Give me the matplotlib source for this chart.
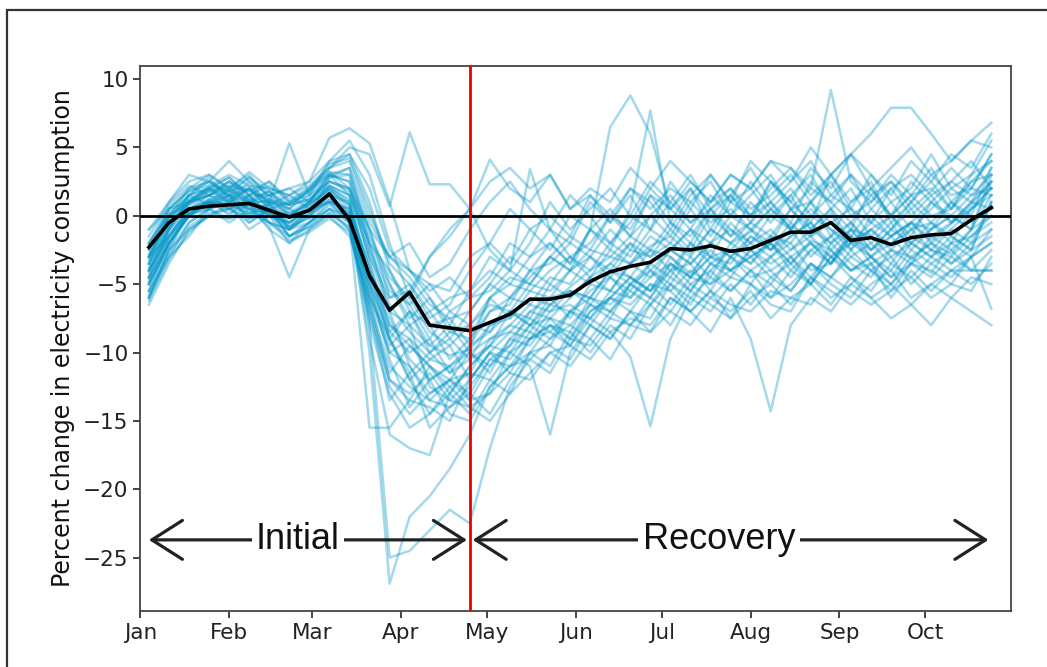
import numpy as np
import matplotlib
matplotlib.use("Agg")
import matplotlib.pyplot as plt
import matplotlib.dates as mdates
from matplotlib.patches import Rectangle

# weekly observations, Jan 4 to Oct 24 2020
weeks = np.arange(np.datetime64("2020-01-04"), np.datetime64("2020-10-25"), np.timedelta64(7, "D"))
lockdown_end = np.datetime64("2020-04-25")

# national average
mean_change = [-2.3, -0.5, 0.5, 0.7, 0.8, 0.9, 0.4, -0.1, 0.4, 1.6,
               -0.3, -4.4, -6.9, -5.6, -8.0, -8.2, -8.4, -7.8, -7.2, -6.1,
               -6.1, -5.8, -4.8, -4.1, -3.7, -3.4, -2.4, -2.5, -2.2, -2.6,
               -2.4, -1.8, -1.2, -1.2, -0.5, -1.8, -1.6, -2.1, -1.6, -1.4,
               -1.3, -0.3, 0.6]

# individual regions
region_change = [
    [-4.5, -1.0, 1.2, 1.8, 1.0, 1.5, 0.2, -0.5, 0.8, 2.0,
     0.5, -5.0, -8.5, -7.0, -9.5, -10.2, -9.8, -8.0, -7.5, -6.0,
     -6.5, -5.2, -4.0, -3.0, -3.5, -2.2, -1.5, -2.8, -1.0, -2.0,
     -1.2, 0.5, -0.8, -1.5, 0.2, -2.5, -1.0, -2.2, -0.5, -1.8,
     -0.6, 0.8, 2.5],
    [-6.0, -2.5, 0.5, 1.5, 2.2, 1.0, 1.8, 0.5, -0.2, 2.8,
     3.5, -2.0, -7.0, -11.0, -13.5, -12.0, -13.0, -10.5, -11.0, -9.0,
     -8.5, -9.5, -7.0, -6.0, -4.5, -5.5, -3.0, -4.2, -2.5, -4.0,
     -3.0, -2.0, -3.5, -1.8, -2.5, -4.0, -3.0, -1.5, -3.2, -2.0,
     -2.8, -1.0, 1.5],
    [-3.0, -1.5, 0.2, 1.0, 0.5, 0.8, -0.5, -1.0, 0.0, 1.2,
     0.0, -10.0, -26.9, -22.0, -20.5, -18.5, -16.0, -12.5, -11.0, -10.0,
     -8.0, -9.0, -6.5, -7.5, -5.0, -6.0, -4.0, -5.5, -3.5, -4.5,
     -2.5, -4.0, -3.0, -5.0, -2.0, -3.5, -4.5, -2.5, -3.0, -4.2,
     -2.0, -3.0, -1.0],
    [-5.0, -2.0, 0.0, 1.2, 1.8, 0.2, 1.0, -0.8, 0.5, 1.5,
     1.0, -8.0, -25.0, -24.5, -23.0, -21.5, -22.5, -17.0, -12.5, -10.5,
     -11.5, -9.0, -9.5, -7.5, -8.0, -6.5, -5.0, -6.0, -4.5, -5.5,
     -4.0, -6.0, -5.0, -3.5, -4.5, -3.0, -4.0, -5.5, -3.5, -4.0,
     -5.0, -3.0, -2.0],
    [-5.5, -3.0, -1.5, 0.5, -0.2, 0.8, -1.0, -2.0, -0.5, 0.8,
     -0.5, -9.0, -16.0, -17.0, -17.5, -13.0, -14.5, -12.0, -13.0, -10.0,
     -9.5, -10.5, -8.0, -9.0, -7.0, -8.5, -6.0, -7.0, -5.5, -7.5,
     -6.0, -5.0, -6.5, -4.5, -5.5, -6.5, -5.0, -4.0, -6.0, -5.0,
     -4.0, -4.0, -4.0],
    [-1.0, 0.5, 2.0, 2.5, 1.5, 2.8, 1.5, 2.0, 2.5, 5.7,
     6.4, 5.3, 1.0, -4.0, -6.0, -8.0, -5.5, -4.0, -5.0, -3.0,
     -2.0, -3.5, -1.0, 0.5, -1.5, 0.0, 1.5, -0.5, 1.0, 2.0,
     0.5, 1.5, 3.0, 1.0, 2.5, 0.0, 1.0, 2.5, 0.5, 1.8,
     3.5, 2.0, 4.5],
    [-2.0, 0.0, 1.0, 2.0, 2.8, 1.5, 2.2, 1.0, 1.8, 3.5,
     5.0, 4.5, 0.7, 6.1, 2.3, 2.3, 0.5, 4.1, 2.0, 1.0,
     3.0, 0.5, 2.0, 1.0, 3.5, 2.0, 4.0, 2.5, 1.0, 3.0,
     2.0, 4.0, 3.5, 1.5, 3.0, 4.5, 2.0, 3.5, 5.0, 3.0,
     4.0, 5.5, 6.8],
    [-3.5, -0.5, 1.5, 2.0, 1.2, 2.5, 0.8, 1.5, 0.5, 2.2,
     1.5, -3.0, -6.0, -5.0, -7.5, -6.5, -4.0, -2.0, -3.5, -1.0,
     -2.5, 0.0, -1.0, 6.5, 8.8, 6.0, 0.5, 2.0, -1.0, 1.5,
     0.0, 2.5, 1.0, -0.5, 3.0, 1.0, 2.0, 0.0, 1.5, 3.5,
     1.0, 2.5, 3.0],
    [-4.0, -1.5, 0.5, 1.0, 2.0, 0.8, 1.2, 0.0, 1.0, 1.8,
     0.2, -6.0, -10.0, -9.0, -12.0, -11.0, -9.5, -7.0, -6.0, -4.5,
     -3.0, -4.0, -1.0, -2.5, 0.5, 7.7, -0.5, -2.0, 0.5, -1.5,
     1.0, -0.5, 1.5, 3.0, 0.5, -1.0, 2.0, 0.0, -1.5, 1.0,
     0.0, 1.5, 2.0],
    [-5.0, -2.0, 0.0, 0.8, 1.5, -0.5, 0.5, -1.5, -0.8, 0.5,
     -1.0, -7.5, -12.0, -13.5, -14.0, -15.0, -12.0, -10.0, -11.5, -9.0,
     -8.0, -9.5, -7.5, -8.5, -10.3, -15.4, -9.0, -6.0, -7.0, -5.0,
     -6.5, -4.5, -5.5, -3.5, -5.0, -6.0, -4.0, -5.0, -3.5, -4.5,
     -3.0, -4.0, -2.5],
    [-6.5, -3.5, -1.0, 0.0, 0.8, -1.0, 0.0, -2.0, -1.0, 0.0,
     -1.5, -6.0, -9.0, -12.0, -14.5, -13.0, -11.0, -9.5, -8.0, -8.5,
     -6.5, -7.0, -5.5, -4.5, -6.0, -4.0, -5.5, -7.0, -8.5, -6.0,
     -9.0, -14.3, -8.0, -6.0, -7.0, -5.0, -6.0, -7.5, -6.5, -8.0,
     -6.0, -7.0, -8.0],
    [-4.0, -1.0, 1.0, 1.5, 0.5, 1.2, 0.0, -0.5, 0.5, 1.5,
     0.0, -5.5, -9.5, -8.0, -12.5, -13.5, -14.0, -13.0, -10.0, -11.0,
     -16.0, -10.0, -8.0, -9.0, -7.0, -7.5, -5.0, -6.5, -4.0, -5.5,
     -4.0, -5.0, -3.0, -4.5, -2.5, -4.0, -3.5, -5.0, -3.0, -2.0,
     -3.5, -2.5, -1.5],
    [-2.5, 0.5, 1.8, 2.5, 1.5, 2.0, 1.0, 5.3, 1.5, 2.5,
     2.0, -2.0, -5.0, -7.5, -6.0, -8.5, -9.0, -7.0, -6.5, -4.0,
     -5.0, -3.0, -4.0, -2.0, -3.0, -1.0, -2.0, 0.5, -1.5, 1.0,
     0.0, 2.0, 3.5, 2.0, 9.2, 2.5, 1.0, 3.0, 1.5, 2.0,
     0.5, 2.5, 4.0],
    [-1.5, 1.0, 2.5, 3.0, 2.0, 3.2, 2.0, 1.5, 2.5, 4.0,
     4.5, 1.0, -4.0, -6.5, -9.0, -7.0, -8.0, -6.0, -4.5, -5.0,
     -3.0, -1.5, -2.5, 0.0, -1.0, 1.5, 0.5, 2.5, 1.0, 3.0,
     2.0, 4.0, 2.5, 5.0, 3.0, 4.5, 6.0, 7.9, 7.9, 6.0,
     4.0, 5.5, 5.0],
    [-3.0, 0.0, 1.0, 2.2, 1.8, 1.0, 1.5, 0.0, 1.0, 3.0,
     2.5, -3.5, -8.0, -9.5, -11.0, -12.5, -11.5, -9.0, -8.5, -7.0,
     -6.0, -7.5, -5.0, -5.5, -3.5, -4.5, -2.5, -3.5, -2.0, -1.0,
     -2.5, -1.5, 0.5, -1.0, -2.0, -0.5, -2.5, -1.0, 0.5, -1.5,
     -0.5, 1.0, 0.5],
    [-5.5, -2.5, -0.5, 0.5, 1.0, 0.0, 0.8, -1.0, 0.2, 1.0,
     0.5, -4.5, -7.5, -10.5, -12.0, -11.0, -13.5, -11.0, -9.0, -9.5,
     -7.5, -8.0, -6.5, -7.0, -5.0, -6.0, -3.5, -5.0, -4.0, -2.5,
     -3.5, -2.0, -4.0, -2.5, -1.5, -3.0, -2.0, -3.5, -1.5, -2.5,
     -1.0, -2.0, 1.0],
    [-2.0, 0.8, 2.2, 1.5, 2.5, 1.8, 2.5, 1.2, 2.0, 3.2,
     2.0, -1.5, -4.5, -6.0, -8.5, -9.5, -8.0, -8.5, -6.0, -6.5,
     -4.5, -5.0, -3.0, -4.0, -2.0, -3.0, -1.0, -2.5, 0.0, -1.5,
     -0.5, 1.0, -1.0, 0.5, -1.0, -2.5, 0.0, -1.5, -0.5, 1.0,
     -0.5, 0.5, 2.0],
    [-4.5, -1.5, 0.5, 1.2, 0.0, 1.5, -0.5, -1.5, -0.5, 1.0,
     -0.2, -6.5, -11.0, -12.5, -13.5, -14.0, -12.5, -10.5, -9.5, -8.0,
     -9.0, -7.0, -7.5, -6.0, -4.5, -5.5, -4.0, -3.5, -5.5, -3.0,
     -4.0, -3.0, -2.0, -4.0, -3.5, -1.5, -3.0, -4.0, -2.0, -3.0,
     -2.0, -1.5, 0.0],
    [-3.5, -1.0, 1.5, 0.8, 1.8, 2.2, 1.0, 0.8, 1.2, 2.5,
     1.8, -2.5, -6.5, -8.5, -10.0, -9.0, -10.5, -9.5, -7.0, -8.0,
     -6.0, -5.5, -6.5, -4.5, -5.5, -3.5, -4.5, -2.0, -3.0, -3.5,
     -1.5, -2.5, -1.0, -3.0, -1.5, -0.5, -2.0, -0.5, -2.5, -1.0,
     0.0, -1.0, 3.0],
    [-6.0, -3.0, -0.5, 0.5, -0.5, 0.5, -0.8, -4.5, -1.0, 0.2,
     -1.0, -5.0, -10.5, -14.0, -12.0, -14.5, -15.0, -12.5, -11.0, -10.5,
     -9.0, -8.0, -9.0, -7.0, -8.0, -6.0, -7.0, -5.0, -6.0, -4.5,
     -5.0, -6.0, -4.0, -5.0, -3.0, -4.5, -5.5, -3.5, -4.5, -3.0,
     -4.0, -5.0, -3.5],
    [-2.5, 0.0, 1.5, 2.8, 1.2, 2.0, 0.5, 1.0, 2.0, 3.8,
     4.2, 0.5, -3.5, -5.0, -7.0, -6.0, -5.5, -3.0, -4.0, -2.0,
     1.0, -1.0, 0.5, 2.0, 0.0, 2.5, 1.0, 3.0, 0.5, 1.5,
     3.5, 1.0, 2.5, 4.0, 1.5, 0.5, 3.0, 1.0, 2.0, 4.5,
     2.0, 3.0, 5.5],
    [-5.0, -2.0, 0.0, 1.0, 0.2, 0.8, 0.0, -1.0, 0.0, 1.5,
     -0.5, -7.0, -13.5, -11.5, -15.5, -14.0, -13.0, -14.5, -12.0, -10.0,
     -11.0, -8.5, -10.0, -8.0, -9.0, -6.5, -8.0, -5.5, -6.5, -7.5,
     -5.0, -6.5, -7.0, -4.5, -6.0, -5.0, -3.5, -6.0, -4.0, -5.5,
     -4.0, -3.0, -6.8],
    [-3.0, -0.5, 0.8, 1.8, 2.5, 1.2, 1.8, 0.2, 0.8, 2.0,
     0.8, -4.0, -9.0, -7.0, -8.0, -10.5, -9.0, -6.0, -7.5, -5.5,
     -6.0, -4.0, -5.0, -3.5, -2.0, -4.0, -2.5, -1.0, -3.0, -0.5,
     -2.0, -3.0, -1.5, -0.5, -2.5, -1.0, -3.0, -2.0, -1.0, -0.5,
     -2.0, 0.5, 1.5],
    [-4.0, -1.0, 0.8, 1.5, 1.0, 2.0, 0.5, 0.0, 1.0, 2.2,
     1.0, -4.0, -7.0, -5.5, -3.0, -1.5, 0.5, 2.5, 3.5, 2.0,
     3.0, 0.5, 1.5, -0.5, 2.0, 1.0, -1.0, 1.5, 3.0, 1.0,
     2.0, 0.0, 1.5, -1.0, 0.5, 2.0, -0.5, 1.0, -1.0, 0.5,
     2.0, 1.0, 3.5],
    [-5.5, -2.0, 0.2, 0.5, 1.5, -0.2, 0.5, -1.0, -0.5, 0.5,
     -0.5, -8.0, -13.0, -15.5, -14.5, -12.5, -14.0, -15.0, -13.0, -11.5,
     -10.0, -11.0, -9.0, -10.5, -8.0, -8.5, -7.0, -8.0, -6.0, -7.0,
     -5.5, -7.5, -6.0, -5.0, -6.5, -4.5, -6.0, -5.0, -6.5, -5.0,
     -6.0, -4.5, -5.0],
    [-1.0, 1.0, 3.0, 2.5, 4.0, 2.5, 1.5, 2.0, 1.0, 3.0,
     3.5, -0.5, -3.0, -4.5, -6.5, -7.5, -7.0, -5.0, -6.0, -4.0,
     -3.5, -2.0, -3.0, -1.0, -2.5, 0.0, -1.5, 1.0, -0.5, 0.5,
     -1.0, 0.5, 2.0, 0.0, 1.5, 3.0, 0.5, 2.0, 3.0, 1.5,
     2.5, 4.0, 2.0],
    [-4.0, -1.5, 0.5, 1.0, 0.5, 1.5, 0.0, -0.5, 0.5, 1.0,
     -0.5, -15.5, -15.5, -13.5, -11.0, -12.0, -10.0, -11.5, -9.0, -7.5,
     -8.5, -7.0, -6.0, -7.0, -5.5, -6.5, -4.5, -5.5, -3.5, -4.0,
     -5.0, -3.0, -4.5, -2.5, -3.5, -2.0, -3.0, -4.5, -2.5, -3.5,
     -2.5, -4.0, -4.0],
    [-3.5, 0.5, 1.0, 2.0, 1.5, 1.0, 1.0, 0.5, 1.5, 3.0,
     1.5, -3.0, -7.0, -8.0, -9.5, -8.0, -10.0, -11.0, -9.5, -7.0,
     -7.5, -6.0, -4.5, -5.5, -3.5, -2.5, -4.0, -2.0, -3.5, -2.5,
     -1.0, -2.5, -0.5, -2.0, -3.5, -1.0, -1.5, -3.0, -2.0, -0.5,
     -1.5, -2.5, 1.0],
    [-2.0, 0.2, 1.5, 2.0, 2.8, 1.5, 2.5, 1.0, 1.5, 4.0,
     5.5, 3.0, -2.0, -6.0, -3.0, -1.0, 0.5, -2.5, -4.0, 3.4,
     -1.0, -3.0, -2.0, 0.0, -1.5, 1.5, -0.5, 2.0, 0.0, 1.5,
     -0.5, 2.5, 0.5, 1.0, -1.5, 1.0, 2.5, -0.5, 1.0, 2.5,
     0.5, 3.0, 4.0],
    [-6.0, -2.5, -1.0, 0.0, 0.5, -0.5, 0.5, -1.5, -0.5, 0.5,
     0.0, -6.0, -12.0, -13.0, -11.5, -13.5, -12.0, -10.0, -10.5, -8.5,
     -9.5, -7.0, -8.0, -6.0, -7.0, -5.0, -6.5, -4.5, -5.0, -3.0,
     -4.5, -4.0, -5.5, -3.5, -4.5, -2.5, -4.0, -3.0, -5.0, -3.5,
     -4.5, -3.0, -2.0],
    [-3.0, 0.0, 2.0, 3.0, 2.0, 3.0, 1.2, 0.5, 2.0, 3.5,
     4.5, 2.0, -2.5, -4.0, -5.5, -4.5, -6.0, -4.5, -2.0, -3.0,
     -1.0, -2.0, 1.0, -0.5, 1.5, -1.0, 2.5, 0.5, 3.0, 1.0,
     4.0, 2.5, 1.0, 3.5, 2.0, 4.5, 3.0, 1.5, 4.0, 2.5,
     4.5, 3.5, 6.0],
    [-4.5, -2.0, 0.0, 0.5, 1.0, 0.5, -0.5, -1.0, 0.5, 1.0,
     0.5, -5.0, -9.0, -11.5, -10.0, -11.5, -10.5, -8.0, -7.0, -7.5,
     -5.0, -6.0, -4.5, -3.5, -4.5, -2.5, -3.0, -4.5, -2.0, -3.0,
     -2.0, -1.0, -2.5, -1.0, 0.5, -2.0, -1.0, 0.0, -2.0, -1.0,
     1.0, -0.5, 0.5],
    [-3.8, -0.8, 1.0, 1.5, 2.0, 1.2, 1.0, 0.2, 1.2, 2.5,
     2.0, -1.0, -3.0, -2.0, -4.5, -3.5, -1.0, 1.0, 2.5, 0.5,
     -1.0, 1.5, 0.0, -2.0, -0.5, 2.0, 0.5, -1.0, 1.5, 0.0,
     2.5, 0.5, -1.0, 1.0, 3.0, 0.5, -0.5, 2.0, 0.0, 1.5,
     -0.5, 1.0, 2.5],
    [-5.0, -2.2, 0.0, 1.0, 1.5, 0.5, 0.8, -0.5, 0.5, 1.8,
     0.8, -4.5, -8.0, -9.0, -10.5, -11.0, -10.0, -9.0, -8.0, -6.5,
     -7.0, -5.5, -6.0, -4.0, -5.0, -3.5, -2.5, -3.5, -2.0, -3.0,
     -1.5, -2.5, -1.5, -0.5, -2.0, -1.0, -2.5, -1.5, -0.5, -2.0,
     -1.0, 0.5, 2.0],
    [-2.8, -0.2, 1.2, 2.0, 1.0, 2.0, 0.8, 0.0, 1.0, 2.8,
     3.0, -2.5, -5.5, -6.5, -5.0, -7.0, -6.0, -5.5, -4.0, -5.0,
     -3.0, -4.0, -2.5, -3.0, -1.5, -2.5, -0.5, -1.5, 0.5, -1.0,
     -2.0, 0.0, -1.0, 1.0, -0.5, -1.5, 0.5, -1.0, 1.0, -0.5,
     1.0, 0.0, 3.5],
    [-4.8, -1.8, 0.2, 0.8, 1.2, 0.5, 0.2, -0.8, 0.2, 1.5,
     0.0, -5.5, -10.0, -11.0, -13.0, -12.0, -11.5, -12.0, -10.0, -9.0,
     -8.0, -8.5, -6.0, -6.5, -5.0, -4.0, -5.0, -3.0, -4.5, -2.0,
     -3.0, -2.0, -3.5, -2.0, -3.0, -1.5, -3.5, -2.5, -1.0, -2.5,
     -3.0, -1.5, -0.5],
    [-3.2, -0.5, 1.0, 1.8, 2.2, 1.8, 1.2, 0.8, 1.8, 3.0,
     2.5, -1.0, -6.0, -5.5, -8.0, -7.5, -9.5, -6.0, -5.0, -5.5,
     -4.0, -3.0, -4.5, -2.5, -3.5, -1.5, -2.5, -1.0, -2.0, 0.0,
     -1.0, -2.0, 0.5, -1.5, -0.5, 0.5, -1.5, 0.0, 1.5, 0.0,
     0.5, 2.0, 1.5],
    [-5.8, -2.8, -0.8, 0.2, 0.5, -0.2, 0.2, -1.5, -0.8, 0.2,
     -0.8, -7.0, -11.5, -9.5, -11.0, -13.0, -11.0, -9.5, -10.0, -8.0,
     -7.5, -9.0, -7.0, -6.0, -6.5, -5.0, -5.5, -4.0, -5.0, -4.0,
     -3.0, -4.5, -3.5, -5.0, -3.0, -4.0, -3.0, -4.5, -3.5, -2.5,
     -3.5, -2.0, -1.0],
    [-2.2, 0.5, 1.8, 2.2, 3.0, 2.2, 2.0, 1.5, 2.2, 3.5,
     4.0, 0.0, -3.0, -4.0, -5.0, -5.5, -3.0, -2.0, 0.5, -1.0,
     0.0, -1.5, 1.5, 0.0, 2.0, 0.5, 2.0, 1.0, 2.5, 0.0,
     1.5, 3.0, 0.5, 2.0, 1.0, 3.0, 1.5, 2.5, 1.0, 3.0,
     1.5, 2.0, 4.5],
    [-4.2, -1.2, 0.5, 1.0, 0.8, 1.0, 0.5, -0.2, 0.8, 2.0,
     1.2, -4.5, -9.0, -12.0, -10.5, -9.5, -12.0, -10.0, -8.5, -9.0,
     -7.0, -6.5, -7.5, -5.5, -6.0, -4.5, -3.5, -4.5, -3.0, -4.0,
     -2.5, -3.5, -2.5, -1.5, -3.0, -2.0, -1.0, -2.5, -3.5, -1.5,
     -2.5, -1.0, 0.0],
    [-6.2, -3.2, -1.2, 0.0, -0.2, 0.2, -0.5, -1.8, -1.2, -0.2,
     -1.2, -6.5, -12.5, -14.5, -13.0, -12.0, -13.5, -13.0, -11.5, -12.0,
     -10.0, -9.5, -10.5, -8.5, -7.5, -8.0, -6.0, -7.0, -5.5, -6.5,
     -7.0, -5.5, -6.0, -6.5, -4.5, -5.5, -6.5, -5.5, -4.5, -6.0,
     -5.0, -5.5, -3.0],
    [-3.0, -0.2, 1.5, 2.5, 1.8, 2.8, 1.8, 0.8, 1.8, 3.2,
     3.0, -1.0, -5.0, -8.0, -7.0, -9.0, -7.0, -5.0, -3.0, -4.0,
     -2.0, -3.5, -1.0, -2.0, 0.0, -1.0, 1.0, -0.5, 0.5, 2.0,
     0.0, 1.0, -0.5, 2.5, 1.0, -0.5, 1.5, 0.0, 2.5, 1.0,
     2.5, 1.5, 3.0],
    [-4.6, -1.6, 0.2, 1.2, 0.8, 0.2, 0.5, -0.8, -0.2, 1.2,
     0.2, -3.5, -8.5, -10.0, -9.0, -11.5, -9.5, -8.5, -7.0, -8.0,
     -6.5, -5.5, -6.0, -4.0, -4.5, -5.5, -3.5, -4.5, -3.0, -2.5,
     -3.5, -1.5, -3.0, -2.0, -3.5, -1.5, -2.5, -1.0, -2.0, -3.0,
     -1.5, -2.5, 1.0],
    [-3.5, -0.8, 1.0, 1.5, 2.5, 1.5, 1.5, 0.8, 1.2, 2.2,
     1.5, -2.0, -4.0, -7.0, -10.0, -8.5, -8.0, -6.5, -7.0, -5.0,
     -5.5, -4.0, -3.0, -4.5, -2.5, -3.0, -2.0, -3.0, -1.0, -2.0,
     -0.5, -1.5, -2.0, 0.0, -1.0, -2.0, -0.5, -1.5, -0.5, -1.0,
     0.0, -1.0, 2.5],
]

yticks = [10, 5, 0, -5, -10, -15, -20, -25]

fig = plt.figure(figsize=(10.47, 6.67), dpi=100)
ax = fig.add_axes([0.134, 0.084, 0.832, 0.817])

for series in region_change:
    ax.plot(weeks, series, color="#0096c8", alpha=0.36, lw=1.8, zorder=1)

ax.axhline(0, color="black", lw=2.0, zorder=3)
ax.plot(weeks, mean_change, color="black", lw=2.6, zorder=4)
ax.axvline(lockdown_end, color="#ee0000", lw=2.0, zorder=5)

# period arrows
arrow_y = -23.7
one_day = np.timedelta64(1, "D")
arrow_kw = dict(arrowstyle="<->, head_length=1.1, head_width=0.7",
                lw=2.3, color="#222222", shrinkA=0, shrinkB=0, mutation_scale=20)
ax.annotate("", xy=(mdates.date2num(np.datetime64("2020-01-04")), arrow_y),
            xytext=(mdates.date2num(lockdown_end - one_day), arrow_y),
            arrowprops=arrow_kw, zorder=6)
ax.annotate("", xy=(mdates.date2num(lockdown_end + one_day), arrow_y),
            xytext=(mdates.date2num(np.datetime64("2020-10-23")), arrow_y),
            arrowprops=arrow_kw, zorder=6)
label_kw = dict(ha="center", va="center", fontsize=26, color="#111111",
                family=["Liberation Sans", "DejaVu Sans"], zorder=7,
                bbox=dict(boxstyle="square,pad=0.12", fc="white", ec="none"))
ax.text(mdates.date2num(np.datetime64("2020-02-25")), arrow_y, "Initial", **label_kw)
ax.text(mdates.date2num(np.datetime64("2020-07-21")), arrow_y, "Recovery", **label_kw)

ax.set_xlim(mdates.date2num(np.datetime64("2020-01-01")),
            mdates.date2num(np.datetime64("2020-10-31")))
ax.set_ylim(-28.9, 10.95)
ax.set_yticks(yticks)
ax.xaxis.set_major_locator(mdates.MonthLocator())
ax.xaxis.set_major_formatter(mdates.DateFormatter("%b"))
ax.tick_params(labelsize=15.5, length=5, width=1.2, colors="#222222")
ax.set_ylabel("Percent change in electricity consumption", fontsize=17, color="#111111", labelpad=6)
for side in ax.spines.values():
    side.set_color("#444444")
    side.set_linewidth(1.3)

# frame around the whole figure
fig.add_artist(Rectangle((7 / 1047, -0.05), 1.05, 1.05 - 10 / 667,
                         transform=fig.transFigure, fill=False,
                         ec="#333333", lw=1.6))

fig.savefig("out.png", dpi=100)
